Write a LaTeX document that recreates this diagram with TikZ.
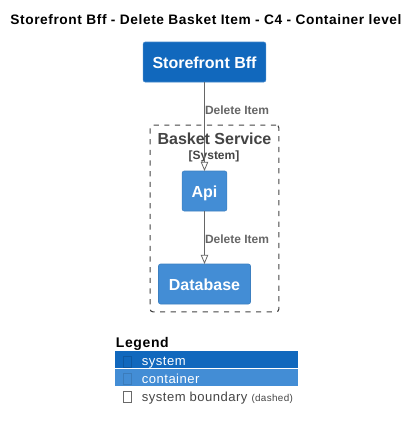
\documentclass[tikz,border=0pt]{standalone}
\usepackage{fontspec}
\setmainfont{Liberation Sans}
\newfontfamily\widefont[LetterSpace=4.2]{Liberation Sans}
\newfontfamily\legendfont[LetterSpace=3.5]{Liberation Sans}
\usetikzlibrary{arrows.meta}
\definecolor{systemblue}{HTML}{1168BD}
\definecolor{containerblue}{HTML}{438DD5}
\definecolor{edgegray}{HTML}{666666}
\definecolor{boundarygray}{HTML}{444444}
\tikzset{
  px/.style={inner sep=0pt, outer sep=0pt},
  boxtext/.style={px, text=white, text height=10pt, text depth=0pt, rounded corners=1.5pt, font=\bfseries\fontsize{12}{14}\selectfont},
  systembox/.style={boxtext, draw=systemblue!80!white, fill=systemblue},
  containerbox/.style={boxtext, draw=containerblue!90!black, fill=containerblue},
  relation/.style={draw=edgegray, line width=0.6pt, -{Triangle[open, length=6.8pt, width=5.5pt]}},
  rellabel/.style={px, anchor=west, text=edgegray, font=\bfseries\fontsize{9}{11}\selectfont},
  legendrow/.style={px, anchor=west, minimum width=137pt, minimum height=13.1pt},
  legendtext/.style={px, anchor=base west, font=\legendfont\fontsize{9.8}{11}\selectfont},
  tofu/.style={px, draw=#1, line width=0.4pt, minimum width=6pt, minimum height=8pt}
}
\begin{document}
\begin{tikzpicture}[x=0.75pt, y=-0.75pt]
    \useasboundingbox (0,0) rectangle (420,430);
    % Title
    \node[px, font=\widefont\bfseries\fontsize{10.3}{12}\selectfont] (title) at (206,20) {Storefront Bff - Delete Basket Item - C4 - Container level};

    % Boundary and its two lines of text
    \node[px, draw=boundarygray, dash pattern=on 3.9pt off 4.1pt, line width=0.8pt, rounded corners=2pt, minimum width=96.5pt, minimum height=140pt] (basket) at (214.5,218.5) {};
    \node[px, text=boundarygray, font=\bfseries\fontsize{12}{14}\selectfont] (baskettitle) at (214.5,138.5) {Basket Service};
    \node[px, text=boundarygray, font=\bfseries\fontsize{9}{11}\selectfont] (baskettype) at (214,156) {[System]};

    % Boxes
    \node[systembox, minimum width=92pt, minimum height=30pt] (bff) at (204.5,62) {Storefront Bff};
    \node[containerbox, minimum width=33.5pt, minimum height=30pt] (api) at (204.5,191) {Api};
    \node[containerbox, minimum width=69pt, minimum height=30pt] (db) at (204.5,284) {Database};

    % Connectors
    \draw[relation] (bff) -- (api);
    \draw[relation] (api) -- (db);
    \node[rellabel] (lblone) at (205,110) {Delete Item};
    \node[rellabel] (lbltwo) at (205,239) {Delete Item};

    % Legend
    \node[px, anchor=base west, font=\widefont\bfseries\fontsize{10.5}{12}\selectfont] (legend) at (116,347.5) {Legend};
    \node[legendrow, fill=systemblue] (rowsystem) at (115,359.75) {};
    \node[legendrow, fill=containerblue] (rowcontainer) at (115,377.25) {};
    \node[tofu=systemblue!85!black] (tofusystem) at (127,361.5) {};
    \node[tofu=containerblue!88!black] (tofucontainer) at (127,378.5) {};
    \node[tofu=boundarygray!80!white] (tofuboundary) at (127,397) {};
    \node[legendtext, text=white] (txtsystem) at (142,365.5) {system};
    \node[legendtext, text=white] (txtcontainer) at (142,383) {container};
    \node[legendtext, text=boundarygray] (txtboundary) at (142,401) {system boundary {\fontsize{7.4}{8}\selectfont (dashed)}};
\end{tikzpicture}
\end{document}
